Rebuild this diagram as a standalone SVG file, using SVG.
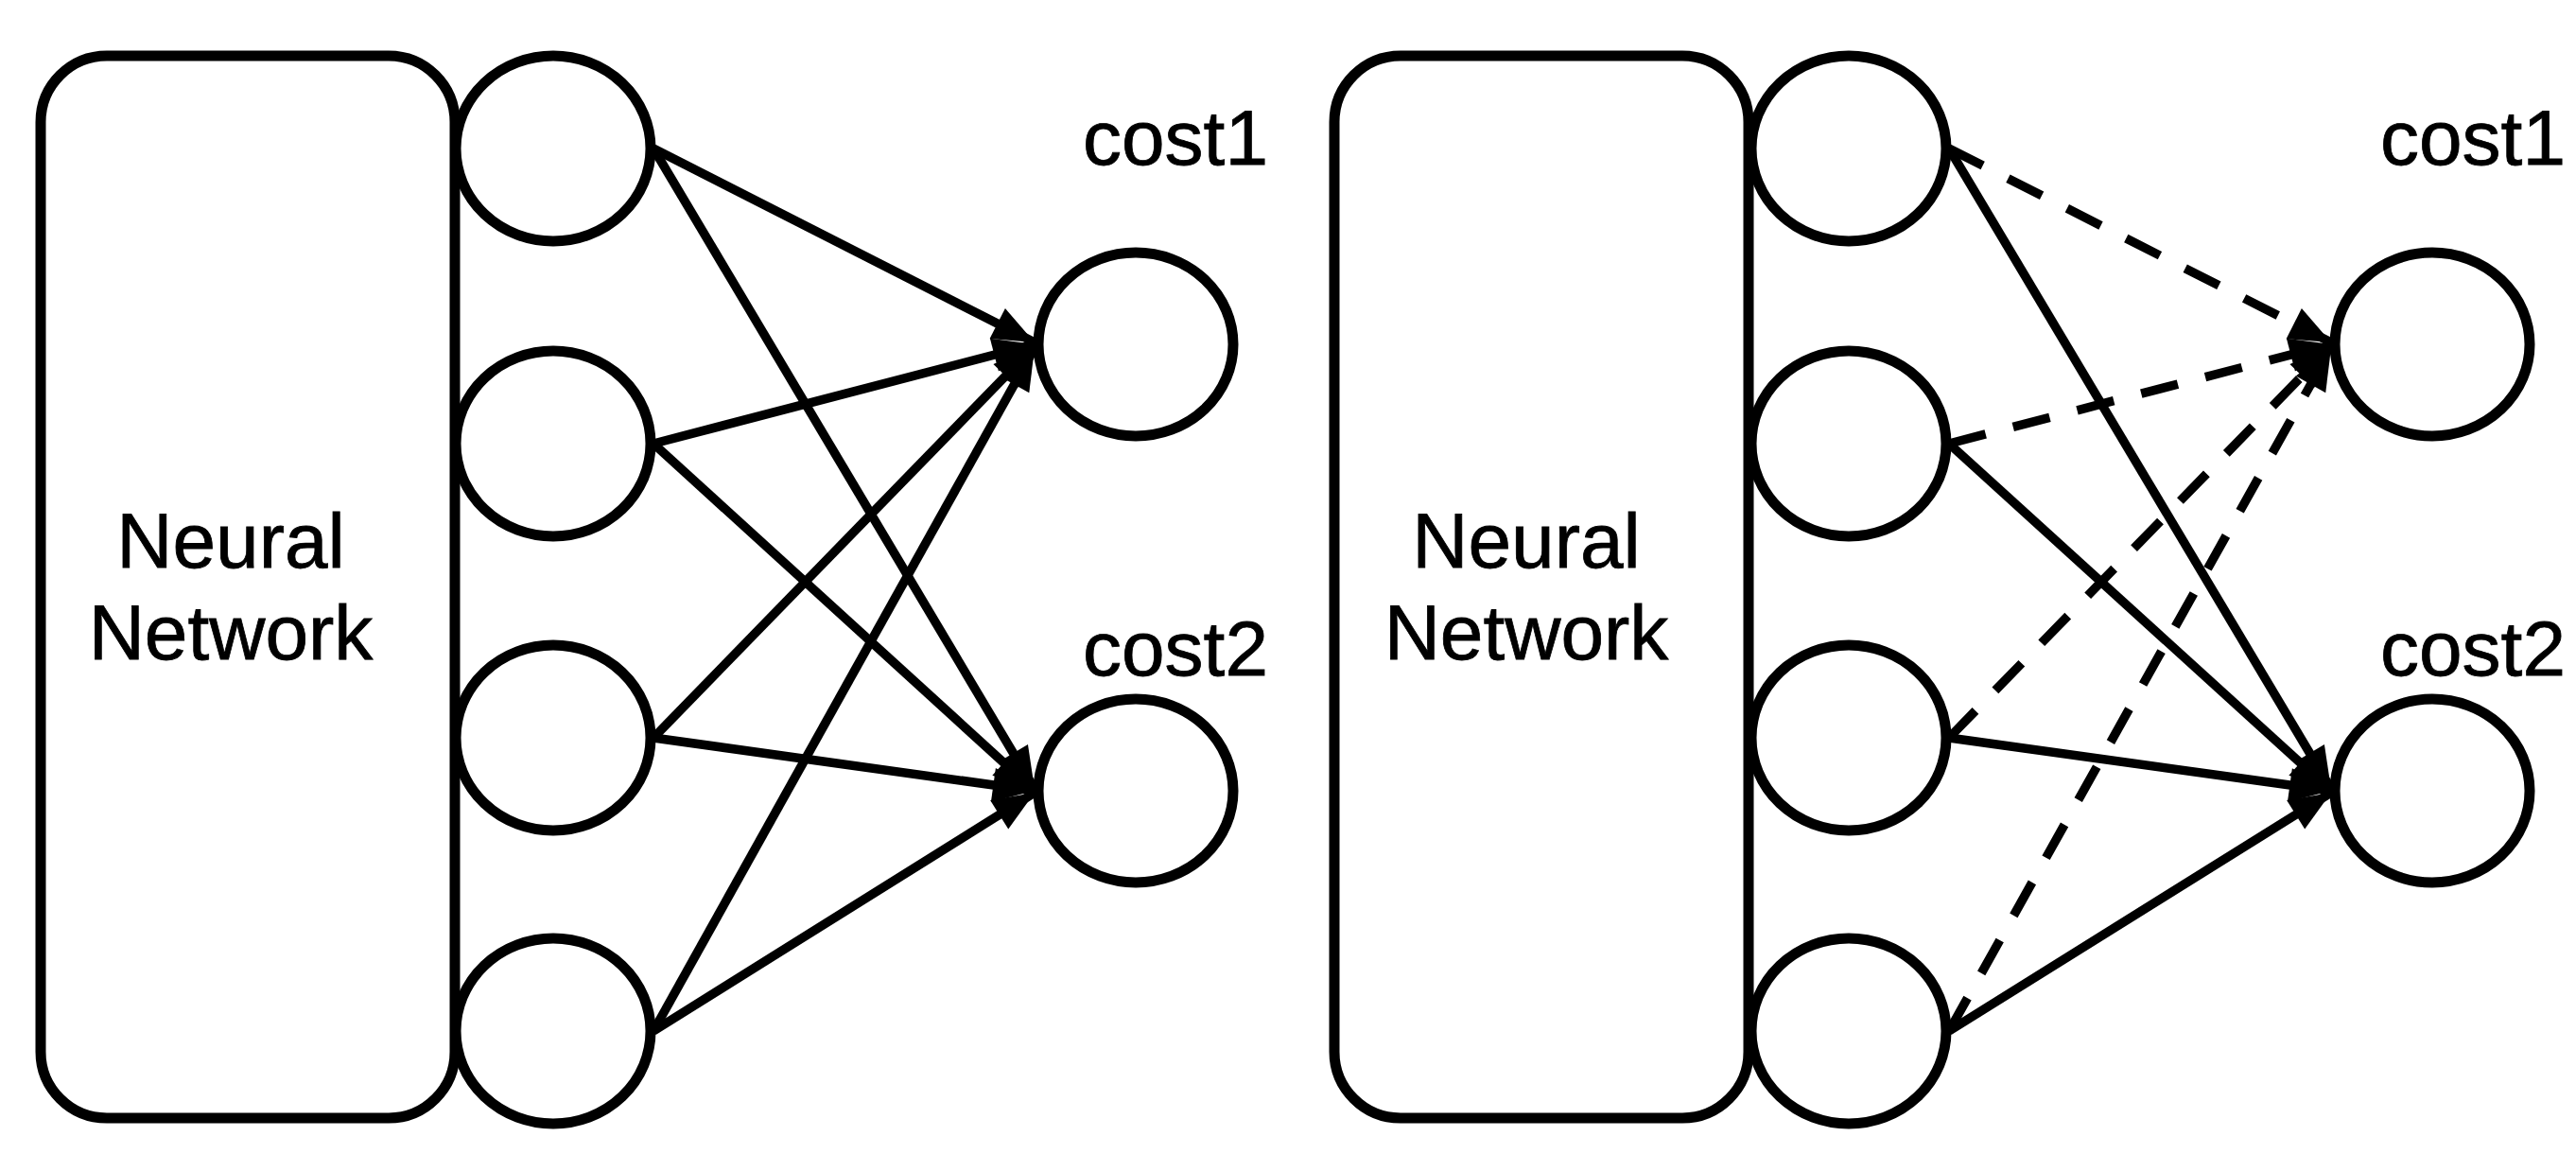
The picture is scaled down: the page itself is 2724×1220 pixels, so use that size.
<svg xmlns="http://www.w3.org/2000/svg" width="2724" height="1220" viewBox="0 0 2724 1220">
<style>
.box{fill:#fff;stroke:#000;stroke-width:11}
.node{fill:#fff;stroke:#000;stroke-width:11}
.lbl{font-family:"Liberation Sans",Arial,sans-serif;font-size:82px;fill:#000;stroke:#000;stroke-width:0.8}
.mid{text-anchor:middle}
.edge{fill:none;stroke:#000;stroke-width:9.5;marker-end:url(#arr)}
.dash{stroke-dasharray:40 30}
</style>
<defs>
<marker id="arr" markerUnits="userSpaceOnUse" markerWidth="48" markerHeight="40" refX="44" refY="18" orient="auto" overflow="visible">
<path d="M0,0 L44,18 L0,36 z" fill="#000"/>
</marker>
</defs>
<g id="connectors">
<g id="left-edges">
<line class="edge" x1="691" y1="157" x2="1094" y2="362"/>
<line class="edge" x1="691" y1="157" x2="1094" y2="834"/>
<line class="edge" x1="691" y1="469" x2="1094" y2="364"/>
<line class="edge" x1="691" y1="469" x2="1094" y2="836"/>
<line class="edge" x1="691" y1="780" x2="1094" y2="366"/>
<line class="edge" x1="691" y1="780" x2="1094" y2="836"/>
<line class="edge" x1="691" y1="1090" x2="1094" y2="368"/>
<line class="edge" x1="691" y1="1090" x2="1094" y2="838"/>
</g>
<g id="right-edges">
<line class="edge dash" x1="2061" y1="157" x2="2465" y2="362"/>
<line class="edge" x1="2061" y1="157" x2="2465" y2="834"/>
<line class="edge dash" x1="2061" y1="469" x2="2465" y2="364"/>
<line class="edge" x1="2061" y1="469" x2="2465" y2="836"/>
<line class="edge dash" x1="2061" y1="780" x2="2465" y2="366"/>
<line class="edge" x1="2061" y1="780" x2="2465" y2="836"/>
<line class="edge dash" x1="2061" y1="1090" x2="2465" y2="368"/>
<line class="edge" x1="2061" y1="1090" x2="2465" y2="838"/>
</g>
</g>
<g id="nn-left">
<rect class="box" x="43" y="59" width="438" height="1123" rx="70" ry="70"/>
<text class="lbl mid" x="244" y="600">Neural</text>
<text class="lbl mid" x="244" y="697">Network</text>
</g>
<g id="h1-left"><ellipse class="node" cx="585" cy="157" rx="103" ry="98"/></g>
<g id="h2-left"><ellipse class="node" cx="585" cy="469" rx="103" ry="98"/></g>
<g id="h3-left"><ellipse class="node" cx="585" cy="780" rx="103" ry="98"/></g>
<g id="h4-left"><ellipse class="node" cx="585" cy="1090" rx="103" ry="98"/></g>
<g id="cost1-left">
<ellipse class="node" cx="1201" cy="364" rx="103" ry="97"/>
<text class="lbl" x="1145" y="174">cost1</text>
</g>
<g id="cost2-left">
<ellipse class="node" cx="1201" cy="836" rx="103" ry="97"/>
<text class="lbl" x="1145" y="714">cost2</text>
</g>
<g id="nn-right">
<rect class="box" x="1411" y="59" width="438" height="1123" rx="70" ry="70"/>
<text class="lbl mid" x="1614" y="600">Neural</text>
<text class="lbl mid" x="1614" y="697">Network</text>
</g>
<g id="h1-right"><ellipse class="node" cx="1955" cy="157" rx="103" ry="98"/></g>
<g id="h2-right"><ellipse class="node" cx="1955" cy="469" rx="103" ry="98"/></g>
<g id="h3-right"><ellipse class="node" cx="1955" cy="780" rx="103" ry="98"/></g>
<g id="h4-right"><ellipse class="node" cx="1955" cy="1090" rx="103" ry="98"/></g>
<g id="cost1-right">
<ellipse class="node" cx="2572" cy="364" rx="103" ry="97"/>
<text class="lbl" x="2517" y="174">cost1</text>
</g>
<g id="cost2-right">
<ellipse class="node" cx="2572" cy="836" rx="103" ry="97"/>
<text class="lbl" x="2517" y="714">cost2</text>
</g>
</svg>
